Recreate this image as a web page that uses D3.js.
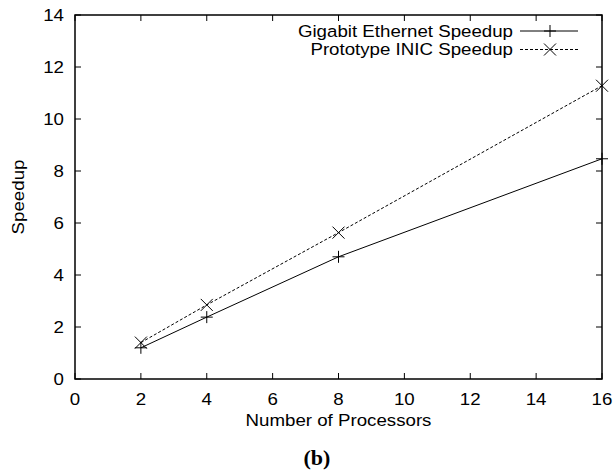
<!DOCTYPE html>
<html>
<head>
<meta charset="utf-8">
<script src="https://cdn.jsdelivr.net/npm/d3@7"></script>
<style>
  body { margin: 0; background: #fff; }
  svg { display: block; }
  text { font-family: "Liberation Sans", Arial, sans-serif; fill: #000; }
</style>
</head>
<body>
<svg width="615" height="471"></svg>
<script>
// data
const processors = [2, 4, 8, 16];
const gigabitSpeedup = [1.2, 2.38, 4.7, 8.47];
const inicSpeedup = [1.4, 2.85, 5.63, 11.28];
const xTicks = [0, 2, 4, 6, 8, 10, 12, 14, 16];
const yTicks = [0, 2, 4, 6, 8, 10, 12, 14];
const seriesNames = ["Gigabit Ethernet Speedup", "Prototype INIC Speedup"];

const svg = d3.select("svg");
const margin = { left: 75, right: 13, top: 15, bottom: 92 };
const width = +svg.attr("width");
const height = +svg.attr("height");
const fontSize = 17;
const stretch = 1.1; // the original postscript font is a bit wider than tall
const tickLen = 6;

const x = d3.scaleLinear().domain([0, 16]).range([margin.left, width - margin.right]);
const y = d3.scaleLinear().domain([0, 14]).range([height - margin.bottom, margin.top]);

const x0 = x.range()[0], x1 = x.range()[1];
const y0 = y.range()[0], y1 = y.range()[1];

// small helper: place a text at (tx, ty) with the horizontal stretch
function label(tx, ty, str, anchor, dy) {
  return svg.append("text")
    .attr("transform", `translate(${tx},${ty}) scale(${stretch},1)`)
    .attr("dy", dy || null)
    .attr("text-anchor", anchor)
    .style("font-size", fontSize + "px")
    .text(str);
}

// ticks on all four sides, pointing in (gnuplot style)
const ticks = svg.append("g").attr("stroke", "#000").attr("stroke-width", 1);
xTicks.forEach((t) => {
  ticks.append("line").attr("x1", x(t)).attr("x2", x(t)).attr("y1", y0).attr("y2", y0 - tickLen);
  ticks.append("line").attr("x1", x(t)).attr("x2", x(t)).attr("y1", y1).attr("y2", y1 + tickLen);
});
yTicks.forEach((t) => {
  ticks.append("line").attr("x1", x0).attr("x2", x0 + tickLen).attr("y1", y(t)).attr("y2", y(t));
  ticks.append("line").attr("x1", x1).attr("x2", x1 - tickLen).attr("y1", y(t)).attr("y2", y(t));
});

// tick labels
xTicks.forEach((t) => label(x(t), y0 + 26, t, "middle"));
yTicks.forEach((t) => label(x0 - 11, y(t), t, "end", "0.35em"));

// border box
svg.append("rect")
  .attr("x", x0)
  .attr("y", y1)
  .attr("width", x1 - x0)
  .attr("height", y0 - y1)
  .attr("fill", "none")
  .attr("stroke", "#000")
  .attr("stroke-width", 1.5);

// axis titles
label((x0 + x1) / 2, y0 + 47, "Number of Processors", "middle");

svg.append("text")
  .attr("transform", `translate(24,${(y0 + y1) / 2}) rotate(-90) scale(${stretch},1)`)
  .attr("text-anchor", "middle")
  .style("font-size", fontSize + "px")
  .text("Speedup");

svg.append("text")
  .attr("x", 317)
  .attr("y", 465)
  .attr("text-anchor", "middle")
  .style("font-family", "'Liberation Serif', 'Times New Roman', serif")
  .style("font-weight", "bold")
  .style("font-size", "22px")
  .text("(b)");

// markers
const ms = 6;
function plusPath(cx, cy) {
  return `M${cx - ms},${cy}H${cx + ms}M${cx},${cy - ms}V${cy + ms}`;
}
function crossPath(cx, cy) {
  return `M${cx - ms},${cy - ms}L${cx + ms},${cy + ms}M${cx - ms},${cy + ms}L${cx + ms},${cy - ms}`;
}

const series = [
  { name: seriesNames[0], values: gigabitSpeedup, dash: null, marker: plusPath },
  { name: seriesNames[1], values: inicSpeedup, dash: "3,2", marker: crossPath },
];

const line = d3.line().x((d) => x(d[0])).y((d) => y(d[1]));

series.forEach((s, i) => {
  const pts = processors.map((p, j) => [p, s.values[j]]);
  svg.append("path")
    .attr("d", line(pts))
    .attr("fill", "none")
    .attr("stroke", "#000")
    .attr("stroke-width", 1)
    .attr("stroke-dasharray", s.dash);
  svg.append("path")
    .attr("d", pts.map((p) => s.marker(x(p[0]), y(p[1]))).join(""))
    .attr("fill", "none")
    .attr("stroke", "#000")
    .attr("stroke-width", 1);

  // legend entry
  const ly = 31 + i * 18.5;
  label(513, ly, s.name, "end", "0.35em");
  svg.append("line")
    .attr("x1", 520).attr("x2", 578)
    .attr("y1", ly).attr("y2", ly)
    .attr("stroke", "#000")
    .attr("stroke-width", 1)
    .attr("stroke-dasharray", s.dash);
  svg.append("path")
    .attr("d", s.marker(550, ly))
    .attr("fill", "none")
    .attr("stroke", "#000")
    .attr("stroke-width", 1);
});
</script>
</body>
</html>
